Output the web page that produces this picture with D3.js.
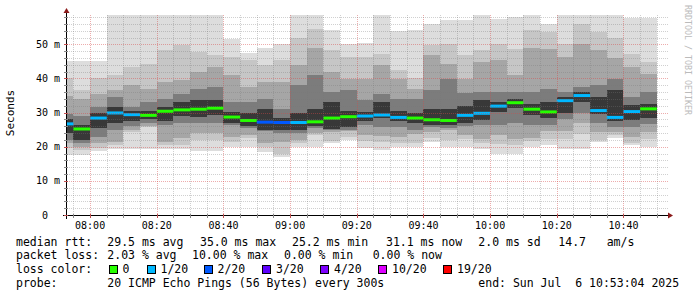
<!DOCTYPE html>
<html>
<head>
<meta charset="utf-8">
<script src="https://cdn.jsdelivr.net/npm/d3@7"></script>
<style>
  body { margin: 0; background: #fff; }
  svg { display: block; }
  text { font-family: "DejaVu Sans Mono", monospace; fill: #000; }
</style>
</head>
<body>
<div id="chart"></div>
<script>
// 5 minute slots (start time), 07:50 slot is cut by the left edge
const slots = ["07:50","07:55","08:00","08:05","08:10","08:15","08:20","08:25","08:30","08:35",
  "08:40","08:45","08:50","08:55","09:00","09:05","09:10","09:15","09:20","09:25",
  "09:30","09:35","09:40","09:45","09:50","09:55","10:00","10:05","10:10","10:15",
  "10:20","10:25","10:30","10:35","10:40","10:45"];

// median rtt (ms) and lost pings out of 20
const median = [26.7,25.2,28.4,29.9,29.4,29.2,30.4,30.8,31.0,31.3,28.7,27.7,27.2,27.1,27.1,27.3,28.4,28.8,
  29.0,29.3,28.6,28.4,27.9,27.7,29.2,29.8,31.9,32.9,31.0,30.2,33.5,35.0,30.6,28.6,30.3,31.1];
const loss = [1,0,1,1,1,0,0,0,0,0,0,0,2,2,1,0,0,0,1,1,1,0,0,0,1,1,1,0,0,0,1,1,1,1,1,0];

// smoke: spread of the 20 pings, outer to inner (ms)
const smokeMax = [45.1,45.1,45.1,60,60,60,60,60,60,60,51.6,47.6,49.0,50.2,60,60,54.2,50.2,
  50.5,60,53.9,54.1,56.1,57.0,57.0,60,57.3,58.0,60,56.1,60,60,60,60,57.6,57.6];
const smokeHi2 = [40.0,36.5,40.0,41.0,43.3,44.2,48.3,49.8,47.7,47.0,46.3,45.4,44.0,45.4,52.0,54.5,48.3,46.3,
  46.3,47.2,42.5,40.0,49.8,50.2,47.0,48.2,50.2,48.7,54.2,53.6,50.0,56.1,53.6,52.0,47.2,44.8];
const smokeHi3 = [35.0,34.0,35.5,36.5,38.0,37.0,39.0,39.5,41.8,43.3,41.0,37.5,39.0,39.0,44.0,49.0,41.9,39.8,
  39.8,43.9,39.8,37.0,46.9,44.3,39.9,44.8,45.4,40.9,48.8,48.7,46.3,50.2,48.2,45.9,43.3,41.4];
const smokeHi4 = [29.5,29.0,31.5,34.5,31.5,33.0,34.0,35.5,37.0,37.5,33.0,33.0,34.0,31.0,38.0,41.0,36.0,36.6,
  33.7,35.4,34.0,34.0,36.6,39.9,35.7,36.0,36.0,36.0,36.0,37.0,36.0,37.5,38.0,39.9,34.6,36.1];
const smokeHi5 = [28.0,26.5,30.0,31.5,30.5,30.5,31.5,33.0,33.7,33.7,30.2,30.0,31.0,28.5,30.0,31.0,33.0,30.5,
  30.2,33.0,30.5,30.0,31.1,31.1,32.0,33.7,33.1,34.0,32.5,33.1,34.5,36.0,34.6,36.6,32.2,32.6];
const smokeLo5 = [24.0,22.0,25.5,27.0,27.5,28.0,27.5,29.0,28.7,29.3,27.0,26.0,25.0,25.0,25.0,26.0,25.2,25.8,
  27.5,28.3,27.5,27.0,26.5,26.5,27.0,27.8,30.2,31.3,29.3,28.3,30.0,33.1,29.5,27.5,27.7,28.5];
const smokeLo4 = [22.0,21.0,23.0,25.0,26.0,27.0,26.5,27.0,27.0,27.0,26.5,25.5,24.5,24.0,24.0,25.5,24.8,25.0,
  26.5,25.8,25.8,25.0,25.8,25.5,26.0,26.5,26.4,27.0,26.4,26.4,28.0,29.8,27.0,25.8,25.8,26.7];
const smokeLo3 = [21.0,20.0,21.0,21.5,25.0,26.0,21.5,22.5,24.0,24.0,23.0,23.5,21.0,21.3,22.0,24.0,24.3,24.5,
  23.5,23.1,22.8,23.7,24.3,24.8,23.5,22.3,23.4,22.3,22.5,24.5,24.5,26.9,24.3,24.3,22.9,24.2];
const smokeLo2 = [19.5,19.0,19.5,20.5,24.3,25.7,20.5,20.5,22.0,22.0,21.5,22.5,20.0,17.8,21.0,23.5,21.7,23.0,
  21.7,21.4,21.1,21.0,22.6,22.0,22.3,21.0,20.9,20.5,21.7,22.3,22.2,23.7,22.0,23.5,21.0,22.3];
const smokeMin = [17.6,17.5,18.8,19.4,19.3,19.4,19.3,19.3,18.7,18.7,19.8,19.8,18.5,17.1,19.8,19.8,21.1,21.9,
  19.6,19.0,19.8,19.9,21.4,19.9,19.9,19.4,18.0,18.0,20.0,20.4,19.4,19.4,21.4,22.5,20.4,19.8];

const lossLevels = [0, 1, 2, 3, 4, 10, 19];
const lossLabels = ["0", "1/20", "2/20", "3/20", "4/20", "10/20", "19/20"];
const lossColors = ["#26ff00", "#00b8ff", "#0059ff", "#5e00ff", "#7e00ff", "#dd00ff", "#ff0000"];

const yTicks = [0, 10, 20, 30, 40, 50];
const yTickLabels = ["0  ", "10 m", "20 m", "30 m", "40 m", "50 m"];

const width = 697, height = 297;
const plot = { left: 67, right: 667, top: 15, bottom: 215 };

const t = s => { const [h, m] = s.split(":").map(Number); return new Date(Date.UTC(2025, 6, 6, h, m, 0)); };
const tStart = new Date(Date.UTC(2025, 6, 6, 7, 53, 4));
const tEnd = new Date(Date.UTC(2025, 6, 6, 10, 53, 4));

const x = d3.scaleUtc().domain([tStart, tEnd]).range([plot.left, plot.right]);
const y = d3.scaleLinear().domain([0, 58.6]).range([plot.bottom, plot.top]);

const svg = d3.select("#chart").append("svg")
  .attr("width", width).attr("height", height);

svg.append("defs").append("clipPath").attr("id", "plotclip")
  .append("rect")
  .attr("x", plot.left).attr("y", plot.top)
  .attr("width", plot.right - plot.left).attr("height", plot.bottom - plot.top);

const bins = slots.map((s, i) => ({
  t0: t(s),
  t1: d3.utcMinute.offset(t(s), 5),
  median: median[i],
  loss: loss[i],
  bands: [
    [smokeMin[i], smokeMax[i]],
    [smokeLo2[i], smokeHi2[i]],
    [smokeLo3[i], smokeHi3[i]],
    [smokeLo4[i], smokeHi4[i]],
    [smokeLo5[i], smokeHi5[i]]
  ]
}));

// smoke, outer bands first so inner ones paint over
const bandColors = ["#dddddd", "#c6c6c6", "#a6a6a6", "#7c7c7c", "#383838"];
const g = svg.append("g").attr("clip-path", "url(#plotclip)");
bandColors.forEach((col, b) => {
  g.append("g").selectAll("rect").data(bins).join("rect")
    .attr("x", d => x(d.t0))
    .attr("width", d => x(d.t1) - x(d.t0))
    .attr("y", d => y(d.bands[b][1]))
    .attr("height", d => y(d.bands[b][0]) - y(d.bands[b][1]))
    .attr("fill", col)
    .attr("shape-rendering", "crispEdges");
});

// grid
const minorX = d3.utcMinute.every(5).range(tStart, tEnd);
const minorY = d3.range(0, 58.6, 2);
const grid = svg.append("g").attr("shape-rendering", "crispEdges");
grid.selectAll("line.vx").data(minorX).join("line")
  .attr("x1", d => Math.round(x(d)) + 0.5).attr("x2", d => Math.round(x(d)) + 0.5)
  .attr("y1", plot.top).attr("y2", plot.bottom)
  .attr("stroke", d => d.getUTCMinutes() % 20 === 0 ? "rgba(215,70,70,0.45)" : "rgba(120,120,120,0.35)")
  .attr("stroke-dasharray", "1,1");
grid.selectAll("line.hy").data(minorY.filter(v => v > 0)).join("line")
  .attr("x1", plot.left).attr("x2", plot.right + 1)
  .attr("y1", d => Math.round(y(d)) + 0.5).attr("y2", d => Math.round(y(d)) + 0.5)
  .attr("stroke", d => d % 10 === 0 ? "rgba(215,70,70,0.45)" : "rgba(120,120,120,0.35)")
  .attr("stroke-dasharray", "1,1");

// median line coloured by loss
const lossColor = n => {
  let c = lossColors[0];
  lossLevels.forEach((lv, i) => { if (n >= lv) c = lossColors[i]; });
  return c;
};
g.append("g").selectAll("rect").data(bins).join("rect")
  .attr("x", d => x(d.t0))
  .attr("width", d => x(d.t1) - x(d.t0))
  .attr("y", d => y(d.median) - 1.5)
  .attr("height", 3)
  .attr("fill", d => lossColor(d.loss));

// axes
const axes = svg.append("g").attr("shape-rendering", "crispEdges");
axes.append("line").attr("x1", plot.left - 4).attr("x2", plot.right + 3)
  .attr("y1", plot.bottom + 0.5).attr("y2", plot.bottom + 0.5).attr("stroke", "#000");
axes.append("line").attr("x1", plot.left - 0.5).attr("x2", plot.left - 0.5)
  .attr("y1", plot.top - 4).attr("y2", plot.bottom + 4).attr("stroke", "#000");
axes.selectAll("line.xt").data(minorX).join("line")
  .attr("x1", d => Math.round(x(d)) + 0.5).attr("x2", d => Math.round(x(d)) + 0.5)
  .attr("y1", plot.bottom - 1).attr("y2", plot.bottom + 3)
  .attr("stroke", d => d.getUTCMinutes() % 20 === 0 ? "#c05050" : "#888");
axes.selectAll("line.yt").data(minorY).join("line")
  .attr("x1", plot.left - 3).attr("x2", plot.left + 1)
  .attr("y1", d => Math.round(y(d)) + 0.5).attr("y2", d => Math.round(y(d)) + 0.5)
  .attr("stroke", d => d % 10 === 0 ? "#c05050" : "#888");

svg.append("path")
  .attr("d", `M${plot.left - 3.5},${plot.top - 2} L${plot.left - 0.5},${plot.top - 7} L${plot.left + 2.5},${plot.top - 2} Z`)
  .attr("fill", "#8b1a1a");
svg.append("path")
  .attr("d", `M${plot.right + 1},${plot.bottom - 2.5} L${plot.right + 6},${plot.bottom + 0.5} L${plot.right + 1},${plot.bottom + 3.5} Z`)
  .attr("fill", "#8b1a1a");

// tick labels
svg.append("g").selectAll("text").data(d3.utcMinute.every(20).range(tStart, tEnd)).join("text")
  .attr("x", d => x(d)).attr("y", 229)
  .attr("text-anchor", "middle").attr("font-size", "10px")
  .text(d3.utcFormat("%H:%M"));
svg.append("g").selectAll("text").data(yTicks).join("text")
  .attr("x", 60).attr("y", d => y(d) + 3.5)
  .attr("text-anchor", "end").attr("font-size", "10px")
  .style("white-space", "pre")
  .text((d, i) => yTickLabels[i]);

svg.append("text")
  .attr("transform", "translate(14,113) rotate(-90)")
  .attr("text-anchor", "middle").attr("font-size", "11px")
  .text("Seconds");

svg.append("text")
  .attr("transform", "translate(685,5) rotate(90)")
  .attr("font-size", "8.3px").style("fill", "#bbbbbb")
  .text("RRDTOOL / TOBI OETIKER");

// legend
const legendRows = [
  { y: 245.5, items: [[16, "median rtt:"], [107.3, "29.5 ms avg"], [200, "35.0 ms max"], [292, "25.2 ms min"],
    [386, "31.1 ms now"], [478.3, "2.0 ms sd"], [558.3, "14.7"], [606.7, "am/s"]] },
  { y: 259, items: [[16, "packet loss:"], [107.3, "2.03 % avg"], [192, "10.00 % max"], [284, "0.00 % min"],
    [372.7, "0.00 % now"]] },
  { y: 273, items: [[16, "loss color:"]] },
  { y: 286.5, items: [[16, "probe:"], [107.3, "20 ICMP Echo Pings (56 Bytes) every 300s"],
    [478.3, "end: Sun Jul  6 10:53:04 2025"]] }
];
const legend = svg.append("g").attr("font-size", "11.5px");
legendRows.forEach(r => {
  legend.append("g").selectAll("text").data(r.items).join("text")
    .attr("x", d => d[0]).attr("y", r.y)
    .style("white-space", "pre")
    .text(d => d[1]);
});
const swatchX = [108.5, 146.5, 203.5, 262, 320, 378, 443];
const sw = legend.append("g").selectAll("g").data(lossLabels).join("g")
  .attr("transform", (d, i) => `translate(${swatchX[i]},265)`);
sw.append("rect").attr("x", 0.5).attr("y", 0.5).attr("width", 8).attr("height", 8)
  .attr("fill", (d, i) => lossColors[i]).attr("stroke", "#000").attr("shape-rendering", "crispEdges");
sw.append("text").attr("x", 14).attr("y", 8).text(d => d);
</script>
</body>
</html>
